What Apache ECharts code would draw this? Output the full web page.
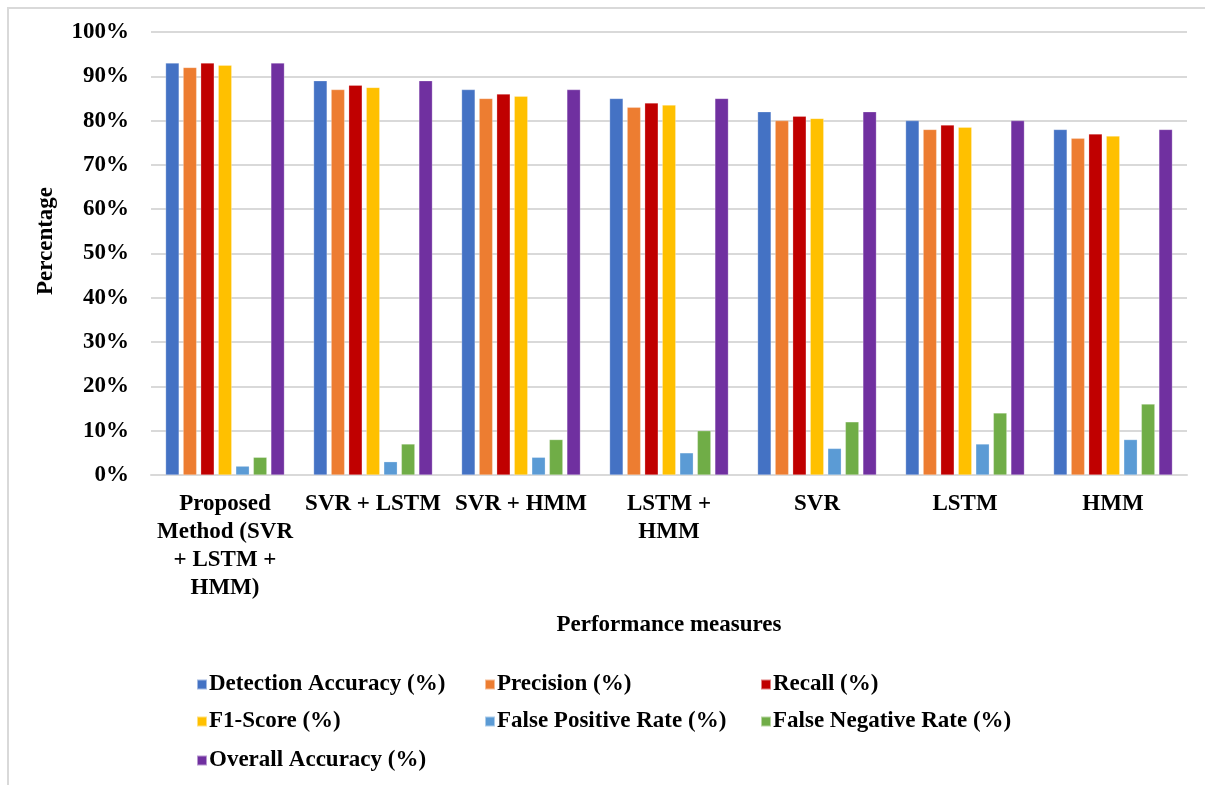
<!DOCTYPE html>
<html><head><meta charset="utf-8">
<script src="https://cdn.jsdelivr.net/npm/echarts@6/dist/echarts.min.js"></script>
<style>html,body{margin:0;padding:0;background:#fff}#c{width:1205px;height:785px}</style>
</head><body><div id="c"></div>
<script>
const categories = ['Proposed Method (SVR + LSTM + HMM)', 'SVR + LSTM', 'SVR + HMM', 'LSTM + HMM', 'SVR', 'LSTM', 'HMM'];
const categoryLabels = ['Proposed\nMethod (SVR\n+ LSTM +\nHMM)', 'SVR + LSTM', 'SVR + HMM', 'LSTM +\nHMM', 'SVR', 'LSTM', 'HMM'];
const seriesNames = ['Detection Accuracy (%)', 'Precision (%)', 'Recall (%)', 'F1-Score (%)', 'False Positive Rate (%)', 'False Negative Rate (%)', 'Overall Accuracy (%)'];
const detectionAccuracy = [93, 89, 87, 85, 82, 80, 78];
const precision = [92, 87, 85, 83, 80, 78, 76];
const recall = [93, 88, 86, 84, 81, 79, 77];
const f1Score = [92.5, 87.5, 85.5, 83.5, 80.5, 78.5, 76.5];
const falsePositiveRate = [2, 3, 4, 5, 6, 7, 8];
const falseNegativeRate = [4, 7, 8, 10, 12, 14, 16];
const overallAccuracy = [93, 89, 87, 85, 82, 80, 78];
const colors = ['#4472C4', '#ED7D31', '#C00000', '#FFC000', '#5B9BD5', '#70AD47', '#7030A0'];
const yMin = 0, yMax = 100, yInterval = 10;

const values = [detectionAccuracy, precision, recall, f1Score, falsePositiveRate, falseNegativeRate, overallAccuracy];
const font = 'Liberation Serif, Times New Roman, serif';
const fs = 23;
const legendPos = [[196, 673], [484, 673], [760, 673], [196, 710], [484, 710], [760, 710], [196, 749]];

const chart = echarts.init(document.getElementById('c'), null, {renderer: 'canvas'});
chart.setOption({
  animation: false,
  backgroundColor: '#fff',
  graphic: [
    {type: 'rect', shape: {x: 8, y: 8, width: 1300, height: 900}, style: {fill: 'none', stroke: '#d9d9d9', lineWidth: 2}, silent: true},
    {type: 'text', x: 46, y: 241, rotation: Math.PI / 2, silent: true,
     style: {text: 'Percentage', fontFamily: font, fontWeight: 'bold', fontSize: fs, fill: '#000', align: 'center', verticalAlign: 'middle'}}
  ],
  legend: seriesNames.map((n, i) => ({
    data: [n], left: legendPos[i][0], top: legendPos[i][1], itemWidth: 10, itemHeight: 10, itemGap: 0, padding: 0,
    icon: 'rect', textStyle: {fontFamily: font, fontWeight: 'bold', fontSize: fs, color: '#000', padding: [0, 0, 0, -3]}
  })),
  grid: {left: 151, right: 18, top: 32, bottom: 310, containLabel: false},
  xAxis: {
    type: 'category', data: categories,
    axisLine: {lineStyle: {color: '#d9d9d9', width: 2}},
    axisTick: {show: false},
    axisLabel: {
      interval: 0, margin: 15, lineHeight: 28, align: 'center',
      formatter: (v, i) => categoryLabels[i],
      fontFamily: font, fontWeight: 'bold', fontSize: fs, color: '#000'
    },
    name: 'Performance measures', nameLocation: 'middle', nameGap: 139,
    nameTextStyle: {fontFamily: font, fontWeight: 'bold', fontSize: fs, color: '#000'}
  },
  yAxis: {
    type: 'value', min: yMin, max: yMax, interval: yInterval,
    axisLine: {show: false}, axisTick: {show: false},
    splitLine: {lineStyle: {color: '#d9d9d9', width: 2}},
    axisLabel: {formatter: v => v + '%', fontFamily: font, fontWeight: 'bold', fontSize: fs, color: '#000', margin: 22}
  },
  series: seriesNames.map((n, i) => ({
    name: n, type: 'bar', data: values[i], barWidth: 13.5, barGap: '30%',
    itemStyle: {color: colors[i], borderColor: 'rgba(255,255,255,0.5)', borderWidth: 0.5}
  }))
});
</script></body></html>
